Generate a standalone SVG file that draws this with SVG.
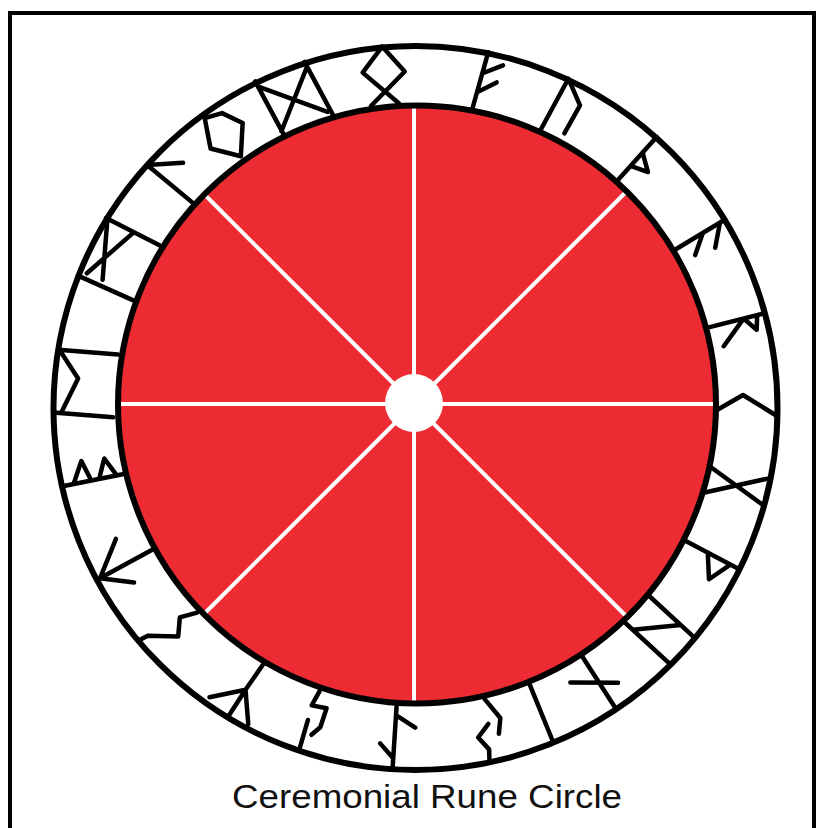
<svg xmlns="http://www.w3.org/2000/svg" width="822" height="828" viewBox="0 0 822 828">
<style>
.ring{fill:none;stroke:#000;stroke-width:6}
.spoke{stroke:#fff;stroke-width:4;stroke-linecap:butt}
.rune{fill:none;stroke:#000;stroke-width:4.5;stroke-linecap:round;stroke-linejoin:round}
.title{font-family:"Liberation Sans",Arial,sans-serif;font-size:34px;fill:#111}
</style>
<rect x="0" y="0" width="822" height="828" fill="#fff"/>
<rect id="frame" x="10" y="13" width="804" height="830" fill="none" stroke="#000" stroke-width="4"/>
<g id="disc">
<circle cx="417" cy="404.5" r="299" fill="#EC2B32"/>
<g id="spokes" class="spoke">
<line x1="414" y1="404" x2="414" y2="100"/>
<line x1="414" y1="404" x2="414" y2="710"/>
<line x1="414" y1="404" x2="112" y2="404"/>
<line x1="414" y1="404" x2="720" y2="404"/>
<line x1="414" y1="404" x2="200" y2="190"/>
<line x1="414" y1="404" x2="630" y2="188"/>
<line x1="414" y1="404" x2="200" y2="618"/>
<line x1="414" y1="404" x2="630" y2="620"/>
</g>
<circle cx="414" cy="403" r="29" fill="#fff"/>
<circle class="ring" cx="417" cy="404.5" r="299"/>
</g>
<circle id="outer-ring" class="ring" cx="415.5" cy="408" r="362"/>
<g id="runes" class="rune">
<path id="rune-f" transform="rotate(10.9 416 406) translate(416 75)" d="M-1,30 L4,-30 M2,-8 L21,-20 M1,11 L18,-2"/>
<path id="rune-u" transform="rotate(25.6 416 406) translate(416 75)" d="M-7,30 L-4,-30 L18,-11 L16,21"/>
<path id="rune-th" transform="rotate(41.8 416 406) translate(416 75)" d="M0,30 L0,-30 M0,-9 L17,2 L0,9"/>
<path id="rune-a" transform="rotate(58.9 416 406) translate(416 75)" d="M0,30 L0,-30 M0,-24 L19,-7 M0,-4 L15,14"/>
<path id="rune-r" transform="rotate(75.9 416 406) translate(416 75)" d="M-5,30 L-5,-30 M-5,-22 L9,-18 L-5,-8 L17,18"/>
<path id="rune-k" transform="rotate(90 416 406) translate(416 75)" d="M4,30 L-11,4 L10,-30"/>
<path id="rune-g" transform="rotate(104.2 416 406) translate(416 75)" d="M-13,30 L11,-30 M13,30 L-17,-30"/>
<path id="rune-w" transform="rotate(117.9 416 406) translate(416 75)" d="M-7,30 L-7,-30 M-7,-21 L16,-9 L-6,4"/>
<path id="rune-h" transform="rotate(132.6 416 406) translate(416 75)" d="M-18,30 L-18,-30 M18,30 L18,-30 M18,20 L-18,-12"/>
<path id="rune-n" transform="rotate(147.2 416 406) translate(416 75)" d="M-4,30 L-4,-30 M20,15 L-20,-11"/>
<path id="rune-i" transform="rotate(157.8 416 406) translate(416 75)" d="M0,30 L0,-30"/>
<path id="rune-j" transform="rotate(167 416 406) translate(416 75)" d="M-1,30 L-12,8 L-7,-7 M1,5 L14,-6 L6,-20 L8,-30"/>
<path id="rune-ei" transform="rotate(183.7 416 406) translate(416 75)" d="M0,30 L0,-30 M0,-22 L14,-8 M-2,20 L-20,10"/>
<path id="rune-p" transform="rotate(198.3 416 406) translate(416 75)" d="M2,30 L5,14 L-10,16 L-10,-4 L-4,-14 M4,-1 L3,-30"/>
<path id="rune-z" transform="rotate(211 416 406) translate(416 75)" d="M-2,30 L0,0 L1,-30 M0,0 L27,-25 M0,0 L-20,-28"/>
<path id="rune-s" transform="rotate(227.8 416 406) translate(416 75)" d="M-6,30 L2,14 L-11,0 L10,-22 L12,-30"/>
<path id="rune-t" transform="rotate(241.4 416 406) translate(416 75)" d="M0,30 L0,-29 M27,4 L0,-29 L-20,-1"/>
<path id="rune-b" transform="rotate(258.8 416 406) translate(416 75)" d="M-10,30 L-10,-30 M-10,-20 L11,-8 L-10,-2 M-10,6 L9,15 L-10,24"/>
<path id="rune-e" transform="rotate(274.5 416 406) translate(416 75)" d="M-35,30 L-35,-30 M28,30 L28,-30 M27,-28 L1,-8 L-34,-22"/>
<path id="rune-m" transform="rotate(296 416 406) translate(416 75)" d="M33,-30 L32,30 M-31,-30 L-29,30 M32,-28 L-24,-6 M-25,-23 L32,1"/>
<path id="rune-l" transform="rotate(312.5 416 406) translate(416 75)" d="M-1,30 L-4,-30 L22,-5"/>
<path id="rune-ng" transform="rotate(324.2 416 406) translate(416 75)" d="M-3,-26 L14,-20 L25,0 L4,26 L-16,2 Z"/>
<path id="rune-d" transform="rotate(338.4 416 406) translate(416 75)" d="M-30,-30 L-23,30 M23,-30 L30,30 M-29,-24 L26,25 M23,-24 L-24,26"/>
<path id="rune-o" transform="rotate(354.3 416 406) translate(416 75)" d="M2,-30 L-20,-6 L13,28 M2,-30 L22,-3 L-15,28"/>
</g>
<text id="caption" class="title" x="427" y="808" text-anchor="middle" textLength="390" lengthAdjust="spacingAndGlyphs">Ceremonial Rune Circle</text>
</svg>
